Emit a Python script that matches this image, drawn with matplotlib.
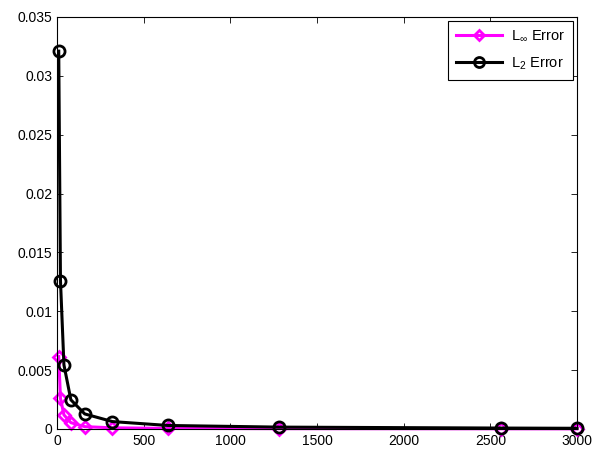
import matplotlib
matplotlib.use("Agg")
import matplotlib.pyplot as plt

plt.rcParams['font.family'] = ['Liberation Sans', 'DejaVu Sans']
plt.rcParams['mathtext.fontset'] = 'custom'
plt.rcParams['mathtext.rm'] = 'Liberation Sans'
plt.rcParams['mathtext.it'] = 'Liberation Sans'

n_values = [10, 20, 40, 80, 160, 320, 640, 1280, 2560, 3000]
linf_error = [0.00615, 0.0026, 0.0012, 0.00054, 0.0002, 0.0001, 0.00005, 0.00003, 0.00002, 0.000015]
l2_error = [0.0321, 0.0126, 0.00545, 0.00248, 0.00128, 0.00063, 0.0003, 0.00016, 0.00008, 0.00006]

xticks = [0, 500, 1000, 1500, 2000, 2500, 3000]
xtick_labels = ['0', '500', '1000', '1500', '2000', '2500', '3000']
yticks = [0, 0.005, 0.01, 0.015, 0.02, 0.025, 0.03, 0.035]
ytick_labels = ['0', '0.005', '0.01', '0.015', '0.02', '0.025', '0.03', '0.035']

fig = plt.figure(figsize=(5.94, 4.51), dpi=100)
ax = fig.add_axes([57/594, 1 - 429/451, (577-57)/594, (429-17)/451])

ax.plot(n_values, linf_error, color='#ff00ff', lw=2.2, marker='D', markersize=6,
        markerfacecolor='none', markeredgewidth=2, label=r'L$_{\infty}$ Error', clip_on=False)
ax.plot(n_values, l2_error, color='black', lw=2.2, marker='o', markersize=8,
        markerfacecolor='none', markeredgewidth=2, label=r'L$_{2}$ Error', clip_on=False, zorder=3)

ax.set_xlim(0, 3000)
ax.set_ylim(0, 0.035)
ax.set_xticks(xticks)
ax.set_xticklabels(xtick_labels)
ax.set_yticks(yticks)
ax.set_yticklabels(ytick_labels)
ax.tick_params(direction='in', top=True, right=True, labelsize=10, length=4, width=0.6)
for s in ax.spines.values():
    s.set_linewidth(0.8)

leg = ax.legend(loc='upper right', fontsize=10.5, handlelength=3.2, handletextpad=0.6,
                fancybox=False, edgecolor='black', framealpha=1, borderaxespad=0.25,
                borderpad=0.55, labelspacing=0.85, markerscale=0.9)
leg.get_frame().set_linewidth(0.8)

fig.savefig('out.png', dpi=100)
